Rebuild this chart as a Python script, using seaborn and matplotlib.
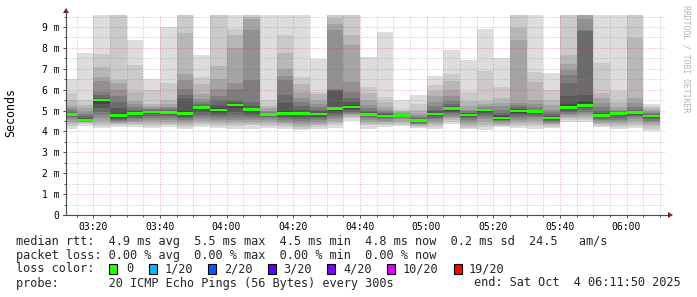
import matplotlib
matplotlib.use("Agg")
import matplotlib.pyplot as plt
import numpy as np
import pandas as pd
import seaborn as sns
from matplotlib.patches import Rectangle, Polygon
from matplotlib.lines import Line2D

# ---------------- data ----------------
slot_end = ["03:15", "03:20", "03:25", "03:30", "03:35", "03:40", "03:45", "03:50", "03:55",
            "04:00", "04:05", "04:10", "04:15", "04:20", "04:25", "04:30", "04:35", "04:40",
            "04:45", "04:50", "04:55", "05:00", "05:05", "05:10", "05:15", "05:20", "05:25",
            "05:30", "05:35", "05:40", "05:45", "05:50", "05:55", "06:00", "06:05", "06:10"]

median_rtt = [4.80, 4.55, 5.50, 4.75, 4.85, 4.93, 4.92, 4.85, 5.13,
              5.03, 5.27, 5.05, 4.82, 4.85, 4.87, 4.83, 5.09, 5.17,
              4.82, 4.74, 4.77, 4.52, 4.84, 5.09, 4.79, 5.02, 4.65,
              4.98, 4.97, 4.65, 5.14, 5.24, 4.78, 4.87, 4.90, 4.74]

# 20 sorted ping times (ms) per 5-minute slot
pings_0315 = [4.10, 4.25, 4.35, 4.45, 4.55, 4.62, 4.68, 4.72, 4.76, 4.79, 4.82, 4.86, 4.90, 4.95, 5.02, 5.10, 5.20, 5.50, 5.85, 6.50]
pings_0320 = [4.28, 4.35, 4.40, 4.43, 4.46, 4.49, 4.51, 4.53, 4.54, 4.55, 4.56, 4.60, 4.65, 4.75, 4.85, 4.95, 5.10, 5.25, 5.50, 7.75]
pings_0325 = [4.15, 4.25, 4.35, 4.50, 4.65, 4.80, 4.95, 5.10, 5.30, 5.45, 5.50, 5.52, 5.60, 5.73, 5.88, 6.40, 6.60, 7.08, 7.72, 9.90]
pings_0330 = [4.22, 4.30, 4.35, 4.40, 4.45, 4.50, 4.55, 4.60, 4.65, 4.72, 4.78, 4.90, 5.10, 5.40, 5.70, 6.00, 6.30, 6.45, 9.70, 9.90]
pings_0335 = [4.20, 4.30, 4.38, 4.45, 4.52, 4.60, 4.65, 4.72, 4.78, 4.83, 4.87, 4.92, 5.00, 5.05, 5.15, 5.30, 5.45, 5.90, 7.20, 8.40]
pings_0340 = [4.15, 4.25, 4.35, 4.45, 4.55, 4.65, 4.75, 4.82, 4.88, 4.92, 4.94, 4.96, 4.98, 5.02, 5.06, 5.12, 5.20, 5.30, 6.00, 6.50]
pings_0345 = [4.20, 4.30, 4.38, 4.45, 4.55, 4.65, 4.72, 4.80, 4.85, 4.90, 4.93, 4.96, 5.00, 5.05, 5.10, 5.17, 5.30, 5.50, 6.30, 9.00]
pings_0350 = [4.13, 4.22, 4.32, 4.40, 4.48, 4.55, 4.62, 4.70, 4.78, 4.83, 4.88, 5.00, 5.55, 5.75, 6.05, 6.45, 6.75, 8.70, 9.70, 9.90]
pings_0355 = [4.22, 4.30, 4.40, 4.50, 4.60, 4.70, 4.80, 4.92, 5.02, 5.10, 5.13, 5.16, 5.22, 5.30, 5.40, 5.55, 5.80, 6.28, 6.60, 7.67]
pings_0400 = [4.15, 4.25, 4.35, 4.45, 4.55, 4.65, 4.75, 4.85, 4.93, 5.00, 5.03, 5.10, 5.27, 5.50, 5.70, 6.05, 6.50, 7.15, 9.70, 9.90]
pings_0405 = [4.13, 4.25, 4.35, 4.45, 4.55, 4.65, 4.80, 4.95, 5.10, 5.24, 5.27, 5.30, 5.40, 5.50, 6.05, 6.30, 8.00, 8.60, 8.88, 9.90]
pings_0410 = [4.13, 4.30, 4.35, 4.45, 4.55, 4.65, 4.75, 4.85, 4.95, 5.02, 5.06, 5.10, 5.20, 5.40, 6.45, 8.85, 9.40, 9.50, 9.70, 9.90]
pings_0415 = [4.18, 4.27, 4.35, 4.45, 4.55, 4.62, 4.68, 4.73, 4.77, 4.80, 4.83, 4.85, 4.87, 4.90, 4.95, 5.00, 5.10, 5.20, 5.50, 9.90]
pings_0420 = [4.13, 4.22, 4.32, 4.40, 4.47, 4.55, 4.62, 4.70, 4.77, 4.83, 4.87, 5.00, 5.35, 5.75, 6.45, 6.65, 7.00, 7.75, 8.60, 9.90]
pings_0425 = [4.07, 4.13, 4.22, 4.30, 4.40, 4.48, 4.58, 4.68, 4.78, 4.85, 4.90, 4.95, 5.05, 5.20, 5.40, 5.60, 5.90, 6.25, 6.60, 9.90]
pings_0430 = [4.13, 4.22, 4.30, 4.38, 4.47, 4.55, 4.62, 4.70, 4.77, 4.82, 4.86, 4.90, 4.97, 5.05, 5.15, 5.33, 5.50, 5.80, 5.90, 7.47]
pings_0435 = [4.17, 4.30, 4.40, 4.50, 4.60, 4.70, 4.80, 4.90, 5.00, 5.07, 5.10, 5.15, 5.95, 6.00, 6.04, 8.84, 9.15, 9.45, 9.70, 9.90]
pings_0440 = [4.50, 4.62, 4.70, 4.78, 4.85, 4.90, 4.95, 5.02, 5.08, 5.13, 5.17, 5.25, 5.40, 5.60, 5.90, 6.38, 8.13, 8.61, 9.70, 9.90]
pings_0445 = [4.13, 4.30, 4.38, 4.47, 4.55, 4.62, 4.68, 4.73, 4.77, 4.80, 4.84, 4.88, 4.93, 5.00, 5.10, 5.25, 5.50, 5.82, 6.12, 7.55]
pings_0450 = [4.22, 4.30, 4.38, 4.45, 4.52, 4.58, 4.63, 4.67, 4.70, 4.73, 4.76, 4.79, 4.83, 4.88, 4.95, 5.02, 5.15, 5.40, 5.65, 8.77]
pings_0455 = [4.25, 4.33, 4.42, 4.50, 4.58, 4.64, 4.68, 4.71, 4.74, 4.76, 4.78, 4.79, 4.80, 4.82, 4.85, 4.88, 4.92, 4.98, 5.08, 5.50]
pings_0500 = [4.15, 4.20, 4.25, 4.30, 4.34, 4.38, 4.41, 4.44, 4.47, 4.50, 4.53, 4.55, 4.58, 4.62, 4.68, 4.78, 4.90, 5.05, 5.30, 5.74]
pings_0505 = [4.14, 4.23, 4.33, 4.42, 4.50, 4.58, 4.66, 4.72, 4.78, 4.83, 4.86, 4.90, 4.96, 5.05, 5.20, 5.40, 5.70, 5.95, 6.20, 6.67]
pings_0510 = [4.38, 4.45, 4.53, 4.62, 4.70, 4.78, 4.86, 4.93, 5.00, 5.07, 5.10, 5.13, 5.20, 5.30, 5.45, 5.70, 6.00, 6.40, 6.77, 7.88]
pings_0515 = [4.10, 4.18, 4.28, 4.38, 4.47, 4.55, 4.62, 4.68, 4.73, 4.77, 4.80, 4.83, 4.86, 4.90, 4.96, 5.05, 5.20, 5.45, 5.87, 7.40]
pings_0520 = [4.07, 4.20, 4.32, 4.45, 4.58, 4.70, 4.80, 4.88, 4.95, 5.00, 5.02, 5.03, 5.05, 5.08, 5.12, 5.20, 5.30, 5.45, 6.90, 8.90]
pings_0525 = [4.22, 4.27, 4.32, 4.38, 4.43, 4.48, 4.53, 4.57, 4.61, 4.64, 4.67, 4.72, 4.80, 4.90, 5.05, 5.20, 5.35, 5.60, 6.15, 7.50]
pings_0530 = [4.15, 4.25, 4.35, 4.45, 4.55, 4.65, 4.75, 4.83, 4.90, 4.96, 4.99, 5.02, 5.08, 5.15, 5.25, 5.35, 8.37, 8.93, 9.70, 9.90]
pings_0535 = [4.10, 4.25, 4.38, 4.48, 4.58, 4.67, 4.75, 4.82, 4.88, 4.93, 4.96, 4.98, 5.00, 5.05, 5.15, 5.30, 5.50, 6.37, 6.85, 9.90]
pings_0540 = [4.15, 4.22, 4.30, 4.36, 4.42, 4.47, 4.52, 4.56, 4.60, 4.64, 4.67, 4.70, 4.76, 4.85, 4.95, 5.05, 5.25, 5.50, 5.97, 6.80]
pings_0545 = [4.47, 4.55, 4.63, 4.70, 4.78, 4.85, 4.93, 5.00, 5.06, 5.12, 5.16, 5.30, 5.70, 6.30, 6.68, 6.95, 7.22, 7.65, 9.70, 9.90]
pings_0550 = [4.47, 4.55, 4.65, 4.75, 4.85, 4.95, 5.03, 5.10, 5.17, 5.22, 5.27, 5.45, 5.74, 8.80, 8.85, 9.40, 9.75, 9.80, 9.85, 9.90]
pings_0555 = [4.22, 4.28, 4.34, 4.41, 4.48, 4.55, 4.61, 4.67, 4.72, 4.76, 4.79, 4.83, 4.90, 5.00, 5.15, 5.35, 5.60, 5.85, 7.30, 9.90]
pings_0600 = [4.10, 4.22, 4.32, 4.40, 4.48, 4.55, 4.63, 4.72, 4.80, 4.85, 4.87, 4.89, 4.91, 4.94, 4.98, 5.05, 5.15, 5.40, 5.92, 9.90]
pings_0605 = [4.15, 4.27, 4.38, 4.48, 4.58, 4.67, 4.74, 4.80, 4.85, 4.89, 4.91, 4.93, 4.98, 5.05, 5.17, 5.35, 5.58, 8.45, 9.70, 9.90]
pings_0610 = [4.02, 4.12, 4.25, 4.35, 4.45, 4.52, 4.60, 4.65, 4.70, 4.73, 4.75, 4.76, 4.79, 4.83, 4.88, 4.95, 5.02, 5.12, 5.22, 5.33]

sorted_pings = [pings_0315, pings_0320, pings_0325, pings_0330, pings_0335, pings_0340,
                pings_0345, pings_0350, pings_0355, pings_0400, pings_0405, pings_0410,
                pings_0415, pings_0420, pings_0425, pings_0430, pings_0435, pings_0440,
                pings_0445, pings_0450, pings_0455, pings_0500, pings_0505, pings_0510,
                pings_0515, pings_0520, pings_0525, pings_0530, pings_0535, pings_0540,
                pings_0545, pings_0550, pings_0555, pings_0600, pings_0605, pings_0610]

xtick_labels = ["03:20", "03:40", "04:00", "04:20", "04:40", "05:00", "05:20", "05:40", "06:00"]
ytick_labels = ["0", "1 m", "2 m", "3 m", "4 m", "5 m", "6 m", "7 m", "8 m", "9 m"]
loss_labels = ["0", "1/20", "2/20", "3/20", "4/20", "10/20", "19/20"]
loss_colors = ["#26ff00", "#00b8ff", "#0059ff", "#5e00ff", "#7e00ff", "#dd00ff", "#ff0000"]

legend_rtt = "median rtt:  4.9 ms avg  5.5 ms max  4.5 ms min  4.8 ms now  0.2 ms sd  24.5   am/s"
legend_loss = "packet loss: 0.00 % avg  0.00 % max  0.00 % min  0.00 % now"
legend_probe = "probe:       20 ICMP Echo Pings (56 Bytes) every 300s"
legend_end = "end: Sat Oct  4 06:11:50 2025"

# ---------------- style ----------------
sns.set_theme(style="white")
plt.rcParams['font.family'] = ['DejaVu Sans Mono']
MONO = ['DejaVu Sans Mono']

W, H = 697, 297
fig = plt.figure(figsize=(W / 100, H / 100), dpi=100)
fig.patch.set_facecolor("white")


def fx(px):
    return px / W


def fy(py):
    return 1 - py / H


ax = fig.add_axes([fx(66), fy(215), 600 / W, 200 / H])
ax.set_facecolor("white")


def to_min(s):
    h, m = s.split(":")
    return int(h) * 60 + int(m) - 180


t_end = np.array([to_min(s) for s in slot_end], dtype=float)
t_mid = t_end - 2.5

# long table of smoke layers
rows = []
for ci, p in enumerate(sorted_pings):
    for k in range(1, 11):
        rows.append(dict(t=t_mid[ci], layer=k, lo=p[k - 1], hi=p[20 - k]))
smoke = pd.DataFrame(rows)

for k in range(1, 11):
    g = int(190 / 10 * (10 - k)) + 50
    col = "#%02x%02x%02x" % (g, g, g)
    d = smoke[smoke.layer == k]
    ax.bar(d.t, d.hi - d.lo, bottom=d.lo, width=5.0, color=col,
           linewidth=0, antialiased=False, zorder=1 + k * 0.01)

X0 = 11.0 + 50 / 60.0
ax.set_xlim(X0, X0 + 180)
YMAX = 200 / 20.89
ax.set_ylim(0, YMAX)

# grid (dotted, drawn on top of smoke)
minor_c = (0.55, 0.55, 0.55, 0.55)
major_c = (0.85, 0.2, 0.2, 0.45)
dots = (0, (1, 2))
for yv in np.arange(0.5, YMAX, 0.5):
    is_major = abs(yv - round(yv)) < 1e-6
    ax.axhline(yv, color=major_c if is_major else minor_c, lw=0.72, ls=dots, zorder=3)
for tv in np.arange(15, X0 + 180, 5):
    is_major = (tv % 20) == 0
    ax.axvline(tv, color=major_c if is_major else minor_c, lw=0.72, ls=dots, zorder=3)

# median rtt bars coloured by loss (all 0 loss here)
med = pd.DataFrame(dict(t=t_mid, m=median_rtt))
ax.bar(med.t, 0.13, bottom=med.m - 0.065, width=5.0, color=loss_colors[0],
       linewidth=0, antialiased=False, zorder=4)

# axes / ticks
for s in ax.spines.values():
    s.set_visible(False)
ax.grid(False)
ax.set_xticks([20, 40, 60, 80, 100, 120, 140, 160, 180])
ax.set_xticklabels(xtick_labels)
ax.set_xticks(np.arange(15, X0 + 180, 5), minor=True)
ax.set_yticks(range(10))
ax.set_yticklabels(ytick_labels)
ax.set_yticks(np.arange(0.5, YMAX, 0.5), minor=True)
ax.tick_params(axis="both", which="major", length=2.2, width=0.72, color="#555555",
               labelsize=7.0, labelcolor="black", direction="out", pad=2.5,
               bottom=True, left=True)
ax.tick_params(axis="both", which="minor", length=1.4, width=0.72, color="#555555",
               direction="out", bottom=True, left=True)
for lab in ax.get_xticklabels() + ax.get_yticklabels():
    lab.set_family(MONO)

# axis lines with arrows
axis_col = "#4a4a4a"
arrow_col = "#8b1a1a"
fig.add_artist(Line2D([fx(66), fx(66)], [fy(215), fy(12)], color=axis_col, lw=0.8))
fig.add_artist(Line2D([fx(63), fx(668)], [fy(215), fy(215)], color=axis_col, lw=0.8))
fig.add_artist(Polygon([[fx(63), fy(13)], [fx(69), fy(13)], [fx(66), fy(8)]],
                       closed=True, color=arrow_col, lw=0))
fig.add_artist(Polygon([[fx(668), fy(212)], [fx(668), fy(218)], [fx(673), fy(215)]],
                       closed=True, color=arrow_col, lw=0))

# labels
fig.text(fx(11), fy(113), "Seconds", rotation=90, ha="center", va="center",
         fontsize=8.4, family=MONO, color="black")
fig.text(fx(686), fy(5), "RRDTOOL / TOBI OETIKER", rotation=-90, ha="center", va="top",
         fontsize=5.9, family=MONO, color="#b4b4b4")

# legend block
LFS = 8.55
fig.text(fx(16), fy(241), legend_rtt, ha="left", va="center", fontsize=LFS, family=MONO)
fig.text(fx(16), fy(255), legend_loss, ha="left", va="center", fontsize=LFS, family=MONO)
fig.text(fx(16), fy(269), "loss color:", ha="left", va="center", fontsize=LFS, family=MONO)
box_x = [109, 149, 208, 268, 327, 387, 454]
lab_x = [126, 165, 224, 283, 343, 403, 469]
for bx, lx, lab, c in zip(box_x, lab_x, loss_labels, loss_colors):
    fig.add_artist(Rectangle((fx(bx), fy(274)), 8 / W, 10 / H, facecolor=c,
                             edgecolor="black", lw=0.8))
    fig.text(fx(lx), fy(269), lab, ha="left", va="center", fontsize=LFS, family=MONO)
fig.text(fx(16), fy(283), legend_probe, ha="left", va="center", fontsize=LFS, family=MONO)
fig.text(fx(681), fy(283), legend_end, ha="right", va="center", fontsize=LFS, family=MONO)

fig.savefig("out.png", dpi=100, facecolor="white")
